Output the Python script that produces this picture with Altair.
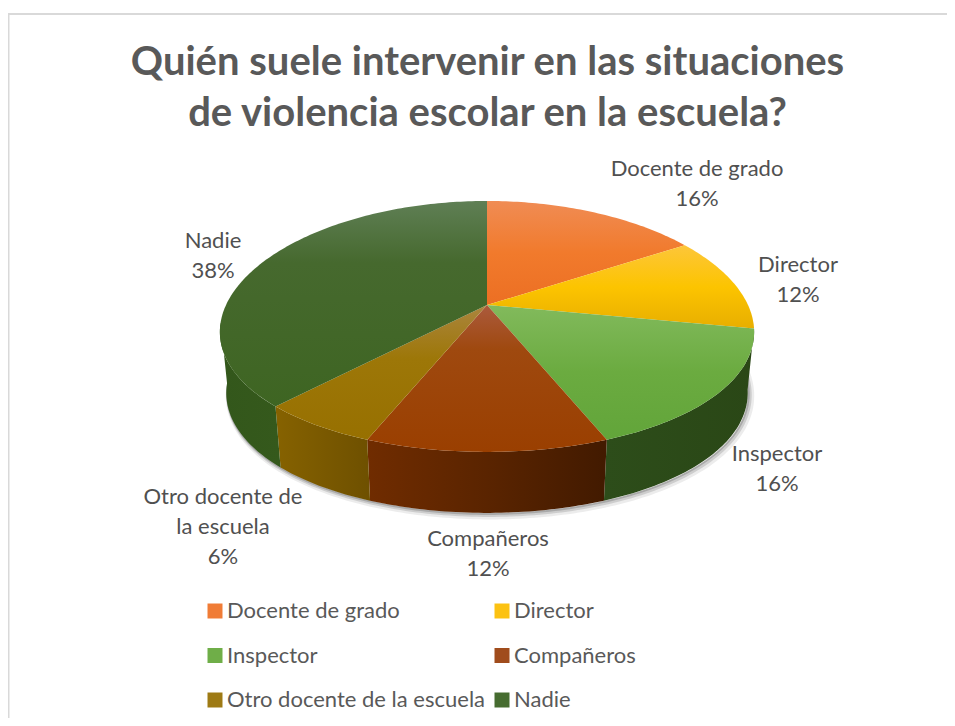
import math
import altair as alt
import pandas as pd

categories = ["Docente de grado", "Director", "Inspector", "Compañeros", "Otro docente de la escuela", "Nadie"]
shares = [16, 12, 16, 12, 6, 38]

legend_order = ["Docente de grado", "Inspector", "Otro docente de la escuela", "Director", "Compañeros", "Nadie"]
legend_colors = ["#f07c36", "#6fae48", "#9e7a14", "#fcc212", "#a04c1c", "#466c30"]
top_stops = [
    [(0, "#f08c54"), (0.5, "#f17a2c"), (1, "#ec6f23")],
    [(0, "#fdc63a"), (0.5, "#fcc400"), (1, "#e8ae00")],
    [(0, "#82ba5c"), (0.5, "#6bab40"), (1, "#62a53a")],
    [(0, "#ab5a3d"), (0.3, "#9f490f"), (1, "#9a3f00")],
    [(0, "#ab853e"), (0.4, "#9d7708"), (1, "#977000")],
    [(0, "#5f7f55"), (0.3, "#46692e"), (1, "#3e6522")],
]
side_stops = [
    None,
    None,
    [(0, "#2d4d1a"), (1, "#2a4716")],
    [(0, "#702c00"), (0.5, "#5a2400"), (1, "#421a00")],
    [(0, "#866200"), (1, "#6e5000")],
    [(0, "#33571b"), (1, "#35591c")],
]
label_pos = [(697, 169), (798, 265), (777, 454), (488, 539), (223, 497), (213, 241)]
label_lines = [["Docente de grado"], ["Director"], ["Inspector"], ["Compañeros"],
               ["Otro docente de", "la escuela"], ["Nadie"]]

W, H = 939, 710
AX, AY = 487, 305      # apex of the pie in page pixels
FONT = "Lato"
TEXT = "#595959"


def rim(deg, bottom=False):
    """Perspective view of a point of the pie's rim; deg runs clockwise from 12 o'clock."""
    u, v = math.sin(math.radians(deg)), math.cos(math.radians(deg))
    x = 261 * u / (1 + 0.213 * v)
    y = 121.8 * v / (1 + 0.171 * v)
    if bottom:
        return x * 0.976, y - 61
    return x, y


def arc(a0, a1, bottom=False):
    n = max(2, int(abs(a1 - a0)) + 1)
    return [rim(a0 + (a1 - a0) * i / (n - 1), bottom) for i in range(n)]


def frame(points):
    return pd.DataFrame({"x": [p[0] for p in points], "y": [p[1] for p in points], "i": range(len(points))})


xs = alt.Scale(domain=[8 - AX, 8 + W - AX], range=[0, W], nice=False, zero=False)
ys = alt.Scale(domain=[AY - 8, AY - 8 - H], range=[0, H], nice=False, zero=False)
X = alt.X("x:Q", scale=xs, axis=None)
Y = alt.Y("y:Q", scale=ys, axis=None)
O = alt.Order("i:Q")


def grad(stops, horizontal=False):
    return alt.LinearGradient(
        gradient="linear", x1=0, y1=0, x2=1 if horizontal else 0, y2=0 if horizontal else 1,
        stops=[alt.GradientStop(offset=o, color=c) for o, c in stops])


layers = []

# soft shadow beneath the pie's edge
for dx, dy, sw, op in [(3, 3, 7, 0.10), (2, 2, 4, 0.18), (1, 1, 2, 0.25)]:
    shadow = frame([(x + dx, y - dy) for x, y in arc(92, 262, True)])
    layers.append(alt.Chart(shadow).mark_line(color="#404040", strokeWidth=sw, opacity=op, clip=False)
                  .encode(x=X, y=Y, order=O))

# walls, then the top faces
edges = [0]
for s in shares:
    edges.append(edges[-1] + s * 3.6)

for k in range(len(categories)):
    if side_stops[k] is None:
        continue
    a0, a1 = max(edges[k], 100.0), min(edges[k + 1], 262.0)
    wall = frame(arc(a0, a1) + arc(a1, a0, True))
    layers.append(alt.Chart(wall).mark_line(filled=True, fill=grad(side_stops[k], True), strokeWidth=0)
                  .encode(x=X, y=Y, order=O))

for k in range(len(categories)):
    face = frame([(0, 0)] + arc(edges[k], edges[k + 1]))
    layers.append(alt.Chart(face).mark_line(filled=True, fill=grad(top_stops[k]), strokeWidth=0)
                  .encode(x=X, y=Y, order=O))

# data labels
for cat_lines, share, (px, py) in zip(label_lines, shares, label_pos):
    lines = cat_lines + [f"{share}%"]
    layers.append(alt.Chart(pd.DataFrame({"t": [0]})).mark_text(
        font=FONT, fontSize=22, color="#505050", align="center", baseline="middle",
        lineHeight=30).encode(
        x=alt.value(px - 8), y=alt.value(py - 8),
        text=alt.value(lines)))

# chart-area border (only its top and left edges are in frame)
layers.append(alt.Chart(pd.DataFrame({"a": [0]})).mark_rule(color="#d9d9d9", strokeWidth=2).encode(
    x=alt.value(0), x2=alt.value(W), y=alt.value(6)))
layers.append(alt.Chart(pd.DataFrame({"a": [0]})).mark_rule(color="#d9d9d9", strokeWidth=2).encode(
    x=alt.value(0.5), y=alt.value(6), y2=alt.value(H)))

# legend
legend = alt.Legend(
    title=None, orient="none", legendX=196, legendY=592, columns=2, symbolType="square",
    symbolSize=225, symbolStrokeWidth=0, symbolOpacity=1, labelFont=FONT, labelFontSize=22,
    labelColor=TEXT, rowPadding=22.5, columnPadding=5, labelOffset=1, labelLimit=400,
    gridAlign="each")
layers.append(alt.Chart(pd.DataFrame({"c": categories})).mark_square(size=0, opacity=0).encode(
    x=alt.value(0), y=alt.value(0),
    color=alt.Color("c:N", scale=alt.Scale(domain=legend_order, range=legend_colors), sort=None, legend=legend)))

chart = alt.layer(*layers).properties(
    width=W, height=H, padding=0, autosize=alt.AutoSizeParams(type="none"),
    title=alt.TitleParams(
        text=["Quién suele intervenir en las situaciones", "de violencia escolar en la escuela?"],
        font=FONT, fontSize=40, fontWeight="bold", color=TEXT, anchor="middle", frame="group",
        lineHeight=51, dx=10, dy=158, baseline="alphabetic", offset=0),
).configure_view(stroke=None)

chart.save("out.html", embed_options={"renderer": "svg", "actions": False})
